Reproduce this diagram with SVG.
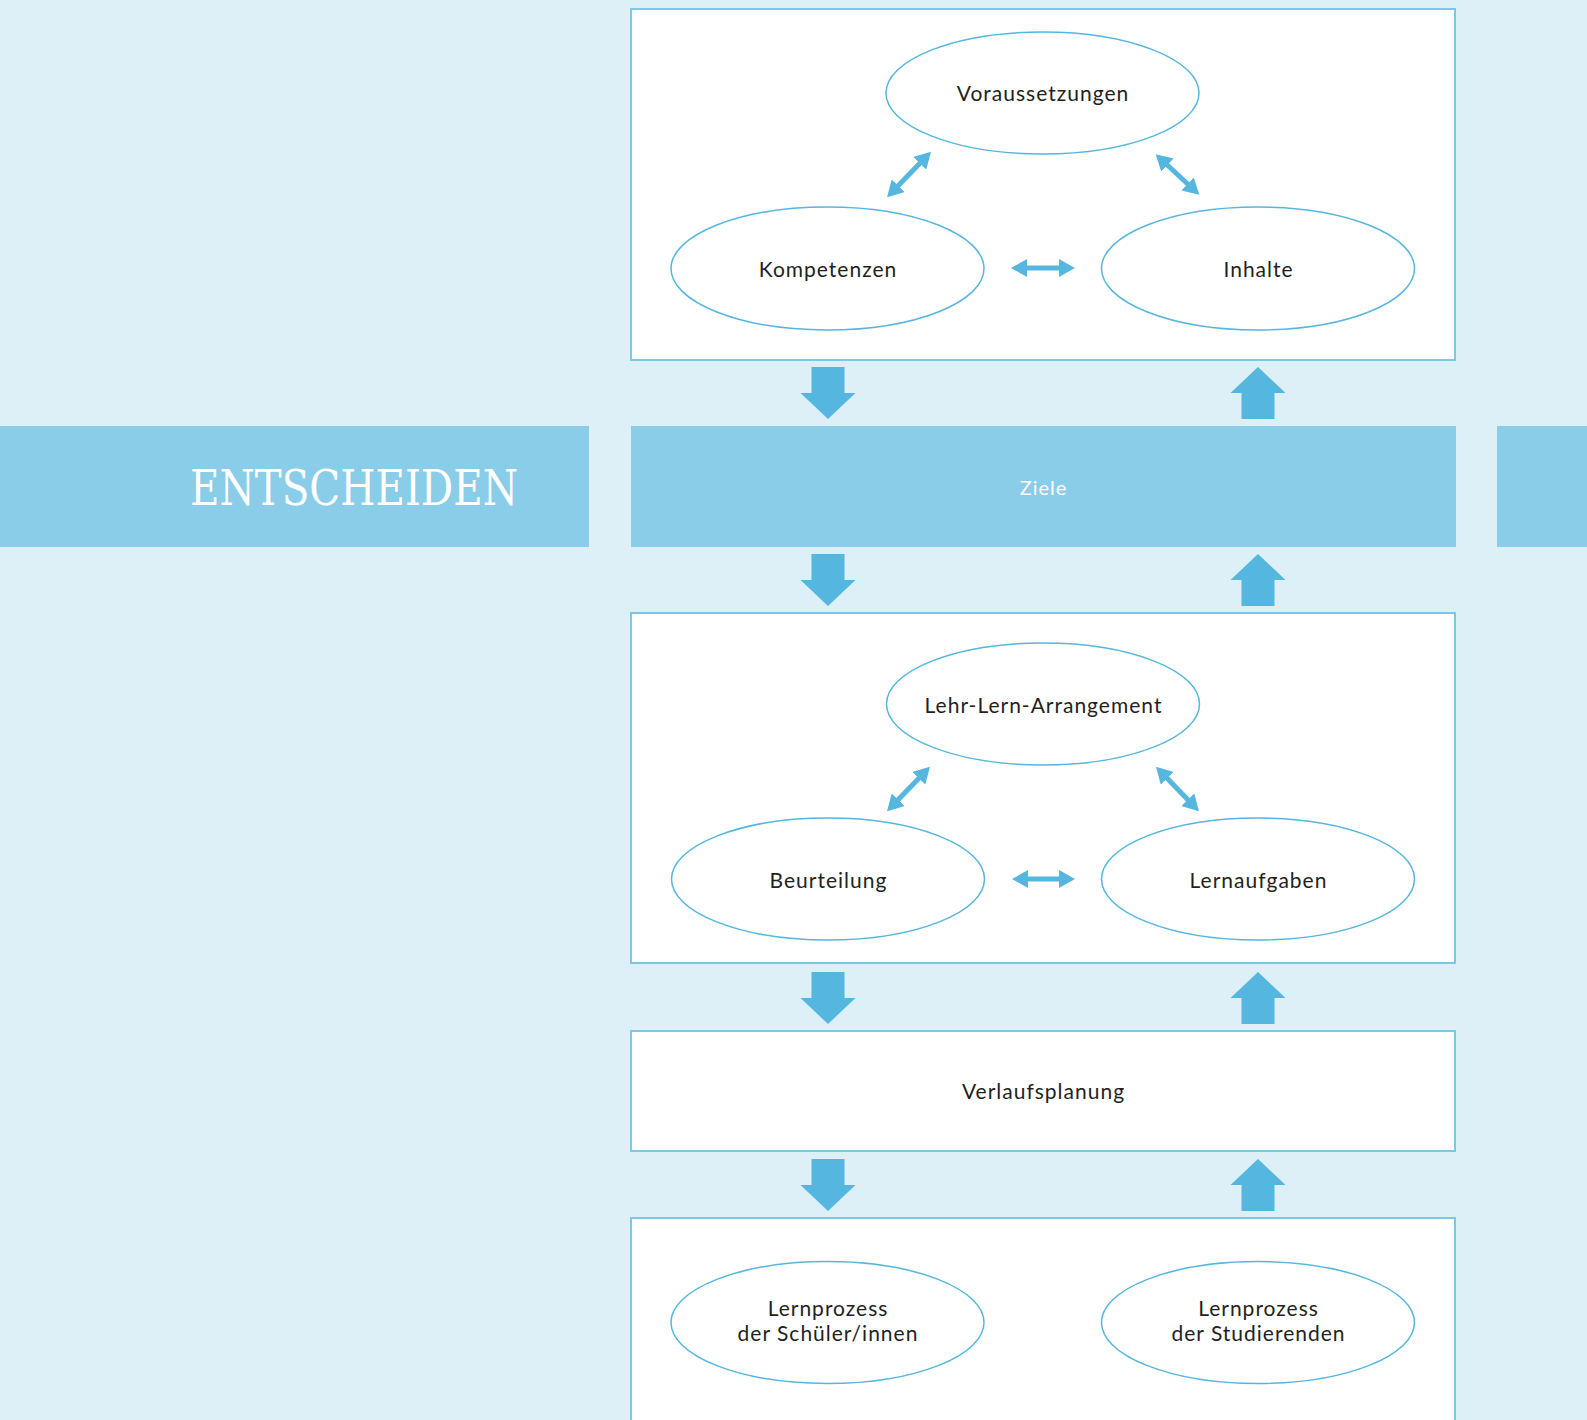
<svg xmlns="http://www.w3.org/2000/svg" width="1587" height="1420" viewBox="0 0 1587 1420">
  <style>
    .bg { fill: #ddeff7; }
    .band { fill: #8acde8; }
    .box { fill: #ffffff; stroke: #7cc7e6; stroke-width: 2; }
    .oval { fill: #ffffff; stroke: #55b6df; stroke-width: 1.5; }
    .lbl { font-family: Lato, "Open Sans", "Liberation Sans", sans-serif; font-size: 21px; letter-spacing: 1px; fill: #231f20; text-anchor: middle; dominant-baseline: central; }
    .ziele { font-family: Lato, "Open Sans", "Liberation Sans", sans-serif; font-size: 20px; letter-spacing: 1px; fill: #ffffff; text-anchor: middle; dominant-baseline: central; }
    .title { font-family: "DejaVu Serif", "Liberation Serif", serif; font-size: 48px; fill: #ffffff; }
    .link { stroke: #55b6df; stroke-width: 5; fill: none; marker-start: url(#tip); marker-end: url(#tip); }
    .flow { fill: #55b6df; }
  </style>
  <defs>
    <marker id="tip" viewBox="0 0 16 18" refX="6" refY="9" markerWidth="16" markerHeight="18" markerUnits="userSpaceOnUse" orient="auto-start-reverse">
      <path d="M0,0 L16,9 L0,18 Z" fill="#55b6df"/>
    </marker>
    <path id="down" d="M-16.5,0 H16.5 V26 H27.5 L0,52 L-27.5,26 H-16.5 Z"/>
    <path id="up" d="M0,0 L27.5,26 H16.5 V52 H-16.5 V26 H-27.5 Z"/>
  </defs>

  <rect class="bg" x="0" y="0" width="1587" height="1420"/>

  <!-- Side bands of the ENTSCHEIDEN row -->
  <g id="entscheiden">
    <rect class="band" x="0" y="426" width="589" height="121"/>
    <text class="title" x="354" y="505" text-anchor="middle" textLength="328" lengthAdjust="spacingAndGlyphs">ENTSCHEIDEN</text>
  </g>
  <rect class="band" x="1497" y="426" width="90" height="121"/>

  <!-- Block 1: Voraussetzungen / Kompetenzen / Inhalte -->
  <g id="block1">
    <rect class="box" x="631" y="9" width="824" height="351"/>
    <g id="voraussetzungen">
      <ellipse class="oval" cx="1042.5" cy="93" rx="156.5" ry="61"/>
      <text class="lbl" x="1043" y="92">Voraussetzungen</text>
    </g>
    <g id="kompetenzen">
      <ellipse class="oval" cx="827.5" cy="268.5" rx="156.5" ry="61.5"/>
      <text class="lbl" x="828" y="268">Kompetenzen</text>
    </g>
    <g id="inhalte">
      <ellipse class="oval" cx="1258" cy="268.5" rx="156.5" ry="61.5"/>
      <text class="lbl" x="1258.5" y="268">Inhalte</text>
    </g>
  </g>

  <!-- Ziele band -->
  <g id="ziele">
    <rect class="band" x="631" y="426" width="825" height="121"/>
    <text class="ziele" x="1043.5" y="487">Ziele</text>
  </g>

  <!-- Block 2: Lehr-Lern-Arrangement / Beurteilung / Lernaufgaben -->
  <g id="block2">
    <rect class="box" x="631" y="613" width="824" height="350"/>
    <g id="arrangement">
      <ellipse class="oval" cx="1043" cy="704" rx="156.5" ry="61"/>
      <text class="lbl" x="1043.5" y="704">Lehr-Lern-Arrangement</text>
    </g>
    <g id="beurteilung">
      <ellipse class="oval" cx="828" cy="879" rx="156.5" ry="61"/>
      <text class="lbl" x="828.5" y="879">Beurteilung</text>
    </g>
    <g id="lernaufgaben">
      <ellipse class="oval" cx="1258" cy="879" rx="156.5" ry="61"/>
      <text class="lbl" x="1258.5" y="879">Lernaufgaben</text>
    </g>
  </g>

  <!-- Block 3: Verlaufsplanung -->
  <g id="verlaufsplanung">
    <rect class="box" x="631" y="1031" width="824" height="120"/>
    <text class="lbl" x="1043.5" y="1090">Verlaufsplanung</text>
  </g>

  <!-- Block 4: learning processes -->
  <g id="block4">
    <rect class="box" x="631" y="1218" width="824" height="220"/>
    <g id="lernprozess-schueler">
      <ellipse class="oval" cx="827.5" cy="1322.5" rx="156.5" ry="61"/>
      <text class="lbl" x="828" y="1307">Lernprozess</text>
      <text class="lbl" x="828" y="1332">der Schüler/innen</text>
    </g>
    <g id="lernprozess-studierende">
      <ellipse class="oval" cx="1258" cy="1322.5" rx="156.5" ry="61"/>
      <text class="lbl" x="1258.5" y="1307">Lernprozess</text>
      <text class="lbl" x="1258.5" y="1332">der Studierenden</text>
    </g>
  </g>

  <!-- Connectors -->
  <g id="connectors">
    <line class="link" x1="894" y1="190" x2="924" y2="159"/>
    <line class="link" x1="1163" y1="161" x2="1192" y2="188"/>
    <line class="link" x1="1021" y1="268" x2="1065" y2="268"/>

    <line class="link" x1="894" y1="804" x2="923" y2="774"/>
    <line class="link" x1="1163" y1="774" x2="1192" y2="804"/>
    <line class="link" x1="1022" y1="879" x2="1065" y2="879"/>

    <use class="flow" href="#down" x="828" y="367"/>
    <use class="flow" href="#up" x="1258" y="367"/>
    <use class="flow" href="#down" x="828" y="554"/>
    <use class="flow" href="#up" x="1258" y="554"/>
    <use class="flow" href="#down" x="828" y="972"/>
    <use class="flow" href="#up" x="1258" y="972"/>
    <use class="flow" href="#down" x="828" y="1159"/>
    <use class="flow" href="#up" x="1258" y="1159"/>
  </g>
</svg>
